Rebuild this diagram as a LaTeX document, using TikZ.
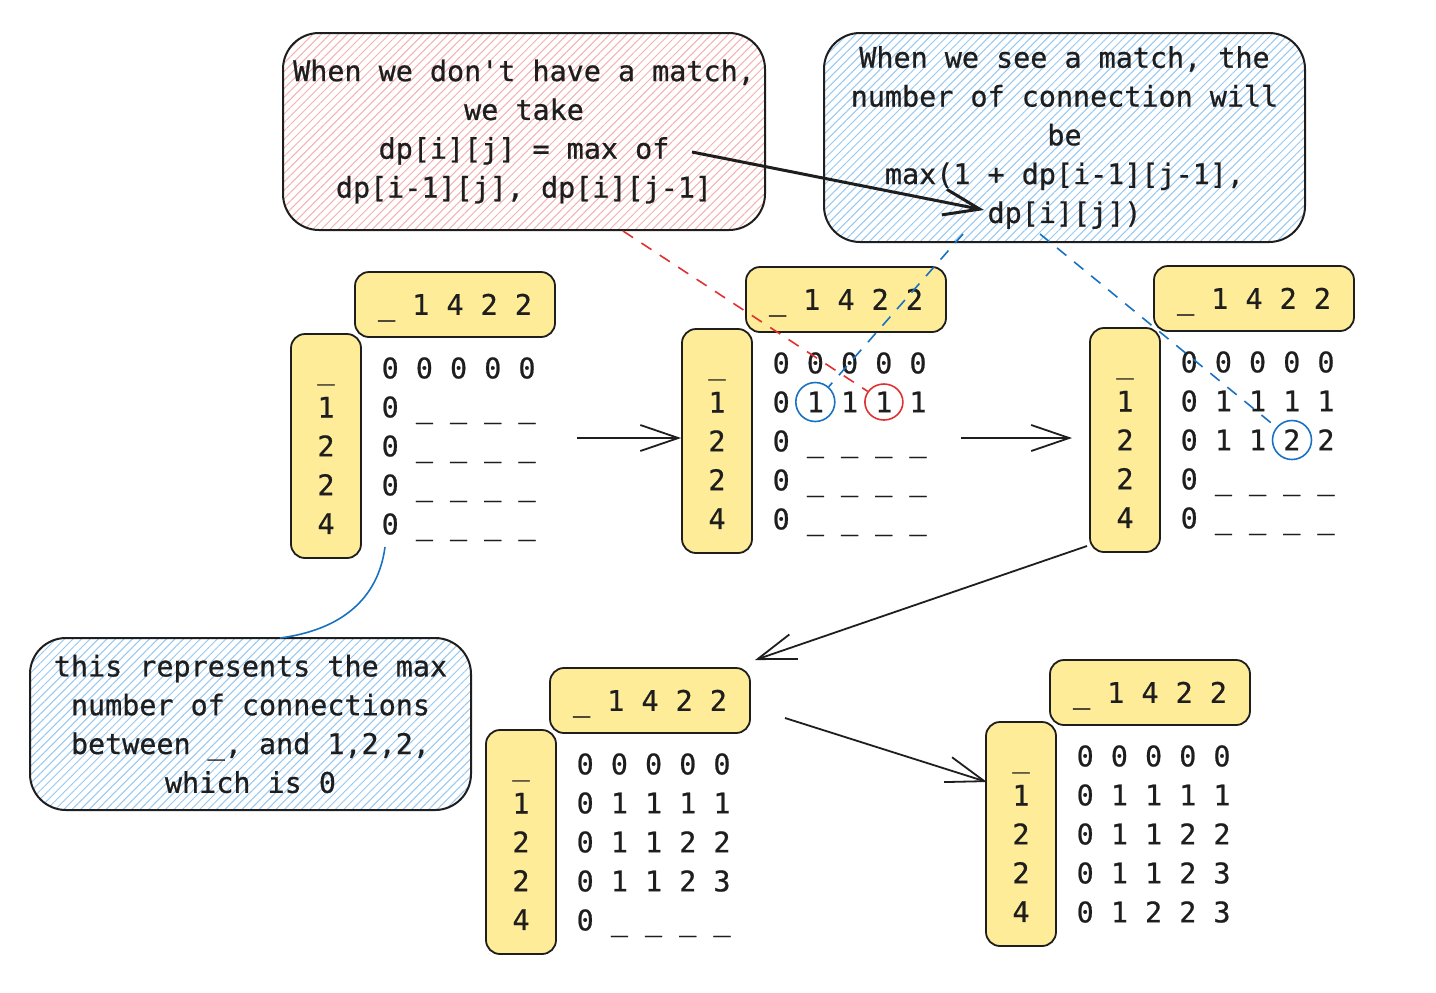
\documentclass[tikz,border=0pt]{standalone}
\usepackage{fontspec}
\newfontfamily\mono{DejaVu Sans Mono}[FakeBold=0.7]
\usetikzlibrary{arrows.meta,patterns.meta,shapes.geometric}
\definecolor{ink}{HTML}{1E1E1E}
\definecolor{ylw}{HTML}{FFEC99}
\definecolor{hatchred}{HTML}{F5B0B0}
\definecolor{hatchblue}{HTML}{96C8F0}
\definecolor{lnred}{HTML}{E03131}
\definecolor{lnblue}{HTML}{1971C2}
\newcommand\rs{\rule{0pt}{10.35pt}}
\tikzset{
  txt/.style={font=\mono\fontsize{14.2pt}{19.4pt}\selectfont, text=ink},
  hdr/.style={txt, draw=ink, line width=0.9pt, fill=ylw, rounded corners=7pt,
    minimum width=100pt, minimum height=32.5pt, inner sep=0pt,
    text height=10.35pt, text depth=0pt},
  sidebox/.style={txt, draw=ink, line width=0.9pt, fill=ylw, rounded corners=7pt,
    minimum width=35pt, minimum height=112pt, inner sep=0pt, align=center},
  gridrow/.style={txt, inner sep=0pt, text height=10.35pt, text depth=0pt},
  callout/.style={txt, draw=ink, line width=1pt, rounded corners=18pt,
    align=center, inner sep=0pt},
  callred/.style={callout, pattern={Lines[angle=45,distance=3pt,line width=0.5pt]}, pattern color=hatchred},
  callblue/.style={callout, pattern={Lines[angle=45,distance=3pt,line width=0.5pt]}, pattern color=hatchblue},
  circ/.style={circle, minimum size=19.5pt, inner sep=0pt, line width=0.8pt},
  arr/.style={draw=ink, line width=0.9pt, -{Straight Barb[length=19pt,width=13pt,line width=0.9pt]}},
  bigarr/.style={draw=ink, line width=1.5pt, -{Straight Barb[length=18pt,width=13pt,line width=1.5pt]}},
  dashred/.style={draw=lnred, line width=0.8pt, dash pattern=on 6pt off 5pt},
  dashblue/.style={draw=lnblue, line width=0.8pt, dash pattern=on 6pt off 5pt},
}
\newcommand\dptable[8]{%
  \begin{scope}[shift={(#1,#2)}]
    \node[hdr] (#3h) at (65,-63.5) {\_ 1 4 2 2};
    \node[sidebox] (#3s) at (-64,78) {\rs\_\\1\\2\\2\\4};
    \node[gridrow] (#3r0) at (68.6,0) {#4};
    \node[gridrow] (#3r1) at (68.6,39) {#5};
    \node[gridrow] (#3r2) at (68.6,78) {#6};
    \node[gridrow] (#3r3) at (68.6,117) {#7};
    \node[gridrow] (#3r4) at (68.6,156) {#8};
  \end{scope}}
\begin{document}
\begin{tikzpicture}[x=0.5pt,y=-0.5pt]
\path[use as bounding box] (0,0) rectangle (1436,992);

% callouts
\node[callred, minimum width=241pt, minimum height=98.5pt] (rbox) at (524,131.5)
  {When we don\textquotesingle t have a match,\\we take\\dp[i][j] = max of\\dp[i-1][j], dp[i][j-1]};
\node[callblue, minimum width=240.5pt, minimum height=104.5pt] (tbox) at (1064.5,137.5)
  {When we see a match, the\\number of connection will\\be\\max(1 + dp[i-1][j-1],\\dp[i][j])};
\node[callblue, minimum width=220.5pt, minimum height=86pt] (bbox) at (250.5,724)
  {this represents the max\\number of connections\\between \_, and 1,2,2,\\which is 0};

% tables
\dptable{390}{368}{ta}{0 0 0 0 0}{0 \_ \_ \_ \_}{0 \_ \_ \_ \_}{0 \_ \_ \_ \_}{0 \_ \_ \_ \_}
\dptable{781}{363}{tb}{0 0 0 0 0}{0 1 1 1 1}{0 \_ \_ \_ \_}{0 \_ \_ \_ \_}{0 \_ \_ \_ \_}
\dptable{1189}{362}{tc}{0 0 0 0 0}{0 1 1 1 1}{0 1 1 2 2}{0 \_ \_ \_ \_}{0 \_ \_ \_ \_}
\dptable{585}{764}{td}{0 0 0 0 0}{0 1 1 1 1}{0 1 1 2 2}{0 1 1 2 3}{0 \_ \_ \_ \_}
\dptable{1085}{756}{te}{0 0 0 0 0}{0 1 1 1 1}{0 1 1 2 2}{0 1 1 2 3}{0 1 2 2 3}

% highlight circles
\node[circ, draw=lnblue] (cb1) at (815.3,402) {};
\node[ellipse, draw=lnred, line width=0.8pt, inner sep=0pt, minimum width=19pt, minimum height=18pt] (cr1) at (883.9,402) {};
\node[circ, draw=lnblue] (cb2) at (1292,440) {};

% dashed pointers
\coordinate (rs) at (623,231);
\coordinate (bs1) at (963,234);
\coordinate (bs2) at (1040,234);
\draw[dashred] (rs) -- (cr1);
\draw[dashblue] (bs1) -- (cb1);
\draw[dashblue] (bs2) -- (cb2);

% big black arrow
\coordinate (ks) at (692,152);
\coordinate (ke) at (984,210);
\draw[bigarr] (ks) -- (ke);

% flow arrows
\coordinate (a1s) at (577,438);
\coordinate (a2s) at (961,438);
\coordinate (a2e) at (1072,438);
\coordinate (a3s) at (1087,546);
\coordinate (a3e) at (755,660);
\coordinate (a4s) at (785,718);
\coordinate (a4e) at (987,782);
\draw[arr] (a1s) -- (tbs.west |- a1s);
\draw[arr] (a2s) -- (a2e);
\draw[arr] (a3s) -- (a3e);
\draw[arr] (a4s) -- (a4e);

% blue curve from table cell to note
\coordinate (cs) at (385,547);
\coordinate (ce) at (280,638);
\draw[draw=lnblue, line width=0.8pt] (cs) .. controls (378,600) and (340,630) .. (ce);
\end{tikzpicture}
\end{document}
